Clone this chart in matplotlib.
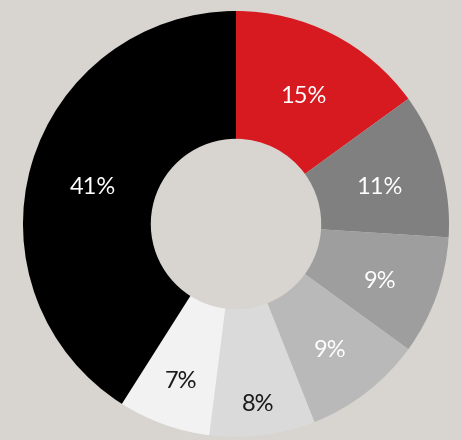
import matplotlib

matplotlib.use("Agg")
import matplotlib.pyplot as plt  # noqa: E402

# shares, clockwise from 12 o'clock
shares = [15, 11, 9, 9, 8, 7, 41]
slice_colors = ["#d71920", "#808080", "#9e9e9e", "#b9b9b9", "#dadada", "#f2f2f2", "#000000"]
label_colors = ["white", "white", "white", "white", "#1a1a1a", "#1a1a1a", "white"]
# the two pale slices carry their labels further out
label_radius = [0.7, 0.7, 0.72, 0.72, 0.83, 0.76, 0.7]
bg = "#d8d4cf"

W, H = 462, 440
fig = plt.figure(figsize=(W / 100, H / 100), dpi=100, facecolor=bg)
# donut centre sits at (236, 216) px from the bottom-left, radius 213 px
R = 213
ax = fig.add_axes([(236 - R) / W, (216 - R) / H, 2 * R / W, 2 * R / H])
ax.set_facecolor(bg)

wedges, texts, autotexts = ax.pie(
    shares,
    colors=slice_colors,
    startangle=90,
    counterclock=False,
    radius=1.0,
    autopct="%d%%",
    pctdistance=1.0,
    wedgeprops=dict(width=0.6, edgecolor="none"),
    textprops=dict(fontsize=17, family=["Lato", "DejaVu Sans"]),
)
for t, c, r in zip(autotexts, label_colors, label_radius):
    x, y = t.get_position()
    t.set_position((x * r, y * r - 0.025))
    t.set_color(c)

ax.set_xlim(-1, 1)
ax.set_ylim(-1, 1)
ax.set_aspect("equal")
ax.axis("off")

fig.savefig("out.png", dpi=100, facecolor=bg)
